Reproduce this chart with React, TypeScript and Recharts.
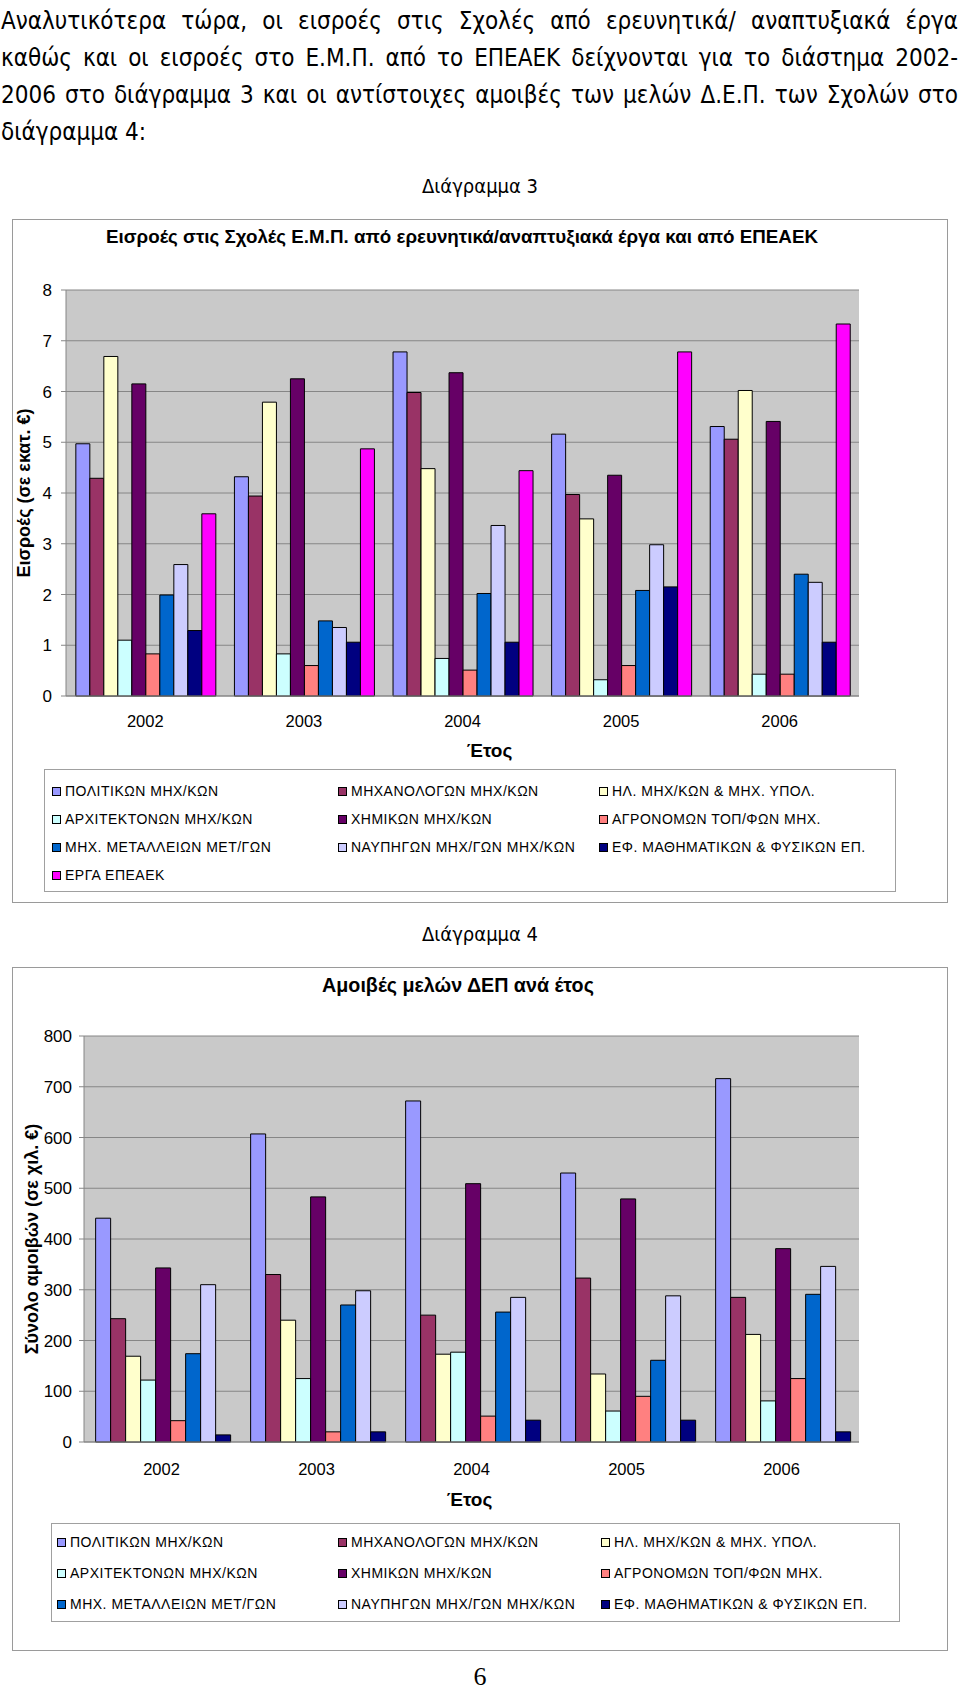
import React from "react";
import { BarChart, Bar, XAxis, YAxis, CartesianGrid, Legend } from "recharts";

const years = ["2002", "2003", "2004", "2005", "2006"];

const schools = [
  "ΠΟΛΙΤΙΚΩΝ ΜΗΧ/ΚΩΝ",
  "ΜΗΧΑΝΟΛΟΓΩΝ ΜΗΧ/ΚΩΝ",
  "ΗΛ. ΜΗΧ/ΚΩΝ & ΜΗΧ. ΥΠΟΛ.",
  "ΑΡΧΙΤΕΚΤΟΝΩΝ ΜΗΧ/ΚΩΝ",
  "ΧΗΜΙΚΩΝ ΜΗΧ/ΚΩΝ",
  "ΑΓΡΟΝΟΜΩΝ ΤΟΠ/ΦΩΝ ΜΗΧ.",
  "ΜΗΧ. ΜΕΤΑΛΛΕΙΩΝ ΜΕΤ/ΓΩΝ",
  "ΝΑΥΠΗΓΩΝ ΜΗΧ/ΓΩΝ ΜΗΧ/ΚΩΝ",
  "ΕΦ. ΜΑΘΗΜΑΤΙΚΩΝ & ΦΥΣΙΚΩΝ ΕΠ.",
];
const epeaekName = "ΕΡΓΑ ΕΠΕΑΕΚ";

const schoolColors = [
  "#9999FF",
  "#993366",
  "#FFFFCC",
  "#CCFFFF",
  "#660066",
  "#FF8080",
  "#0066CC",
  "#CCCCFF",
  "#000080",
];
const epeaekColor = "#FF00FF";

// Διάγραμμα 3: εισροές (εκατ. €), 2002..2006
const inflowPolitikon = [4.97, 4.32, 6.78, 5.16, 5.31];
const inflowMichanologon = [4.29, 3.94, 5.98, 3.97, 5.06];
const inflowIlektrologon = [6.69, 5.79, 4.48, 3.49, 6.02];
const inflowArchitektonon = [1.1, 0.83, 0.74, 0.32, 0.43];
const inflowChimikon = [6.15, 6.25, 6.37, 4.35, 5.41];
const inflowAgronomon = [0.83, 0.6, 0.51, 0.6, 0.43];
const inflowMetalleion = [1.99, 1.48, 2.02, 2.08, 2.4];
const inflowNafpigon = [2.59, 1.35, 3.36, 2.98, 2.24];
const inflowEfarmosmenon = [1.29, 1.06, 1.06, 2.15, 1.06];
const inflowEpeaek = [3.59, 4.87, 4.44, 6.78, 7.33];

// Διάγραμμα 4: αμοιβές μελών ΔΕΠ (χιλ. €), 2002..2006
const feesPolitikon = [441, 607, 672, 530, 716];
const feesMichanologon = [243, 330, 250, 323, 285];
const feesIlektrologon = [169, 240, 173, 134, 212];
const feesArchitektonon = [122, 125, 177, 61, 81];
const feesChimikon = [343, 483, 509, 479, 381];
const feesAgronomon = [42, 20, 51, 90, 125];
const feesMetalleion = [174, 270, 256, 161, 291];
const feesNafpigon = [310, 298, 285, 288, 346];
const feesEfarmosmenon = [14, 20, 43, 43, 20];

const inflowTicks = [0, 1, 2, 3, 4, 5, 6, 7, 8];
const feeTicks = [0, 100, 200, 300, 400, 500, 600, 700, 800];

const inflowSeries = [
  inflowPolitikon,
  inflowMichanologon,
  inflowIlektrologon,
  inflowArchitektonon,
  inflowChimikon,
  inflowAgronomon,
  inflowMetalleion,
  inflowNafpigon,
  inflowEfarmosmenon,
  inflowEpeaek,
];
const feeSeries = [
  feesPolitikon,
  feesMichanologon,
  feesIlektrologon,
  feesArchitektonon,
  feesChimikon,
  feesAgronomon,
  feesMetalleion,
  feesNafpigon,
  feesEfarmosmenon,
];

const inflowNames = [...schools, epeaekName];
const inflowColors = [...schoolColors, epeaekColor];

const buildRows = (series: number[][]) =>
  years.map((year, i) => {
    const row: Record<string, string | number> = { year };
    series.forEach((values, s) => {
      row["s" + s] = values[i];
    });
    return row;
  });

const inflowData = buildRows(inflowSeries);
const feeData = buildRows(feeSeries);

const chartFont = '"Liberation Sans", Arial, sans-serif';
const textFont = '"DejaVu Sans Condensed", "DejaVu Sans", sans-serif';
const gridGray = "#868686";
const plotGray = "#C9C9C9";

/* eslint-disable @typescript-eslint/no-explicit-any */
const yTitle = (text: string, x: number) => (props: any) => {
  const vb = props.viewBox;
  const cy = vb.y + vb.height / 2;
  return (
    <text
      x={x}
      y={cy}
      transform={`rotate(-90 ${x} ${cy})`}
      textAnchor="middle"
      dominantBaseline="central"
      fontFamily={chartFont}
      fontWeight="bold"
      fontSize={18}
      fill="#000"
    >
      {text}
    </text>
  );
};

const xTitle = (text: string, dx: number, dy: number) => (props: any) => {
  const vb = props.viewBox;
  const cx = vb.x + vb.width / 2 + dx;
  return (
    <text
      x={cx}
      y={vb.y + dy}
      textAnchor="middle"
      dominantBaseline="central"
      fontFamily={chartFont}
      fontWeight="bold"
      fontSize={19}
      fill="#000"
    >
      {text}
    </text>
  );
};

// legend kept in the source order (Recharts would sort it by name)
const legendBox =
  (
    names: string[],
    colors: string[],
    cols: number[],
    firstRow: number,
    rowStep: number
  ) =>
  () => (
    <div
      style={{
        position: "relative",
        width: "100%",
        height: "100%",
        boxSizing: "border-box",
        border: "1px solid #A0A0A0",
        background: "#fff",
        fontFamily: chartFont,
        fontSize: 14,
        letterSpacing: 0.5,
      }}
    >
      {names.map((name, i) => (
        <div
          key={name}
          style={{
            position: "absolute",
            left: cols[i % 3],
            top: firstRow + Math.floor(i / 3) * rowStep - 9,
            height: 18,
            lineHeight: "18px",
            whiteSpace: "nowrap",
            display: "flex",
            alignItems: "center",
          }}
        >
          <span
            style={{
              display: "inline-block",
              width: 7,
              height: 7,
              background: colors[i],
              border: "1px solid #000",
              marginRight: 4,
            }}
          />
          {name}
        </div>
      ))}
    </div>
  );
/* eslint-enable @typescript-eslint/no-explicit-any */

const paragraph = [
  "Αναλυτικότερα τώρα, οι εισροές στις Σχολές από ερευνητικά/ αναπτυξιακά έργα",
  "καθώς και οι εισροές στο Ε.Μ.Π. από το ΕΠΕΑΕΚ δείχνονται για το διάστημα 2002-",
  "2006 στο διάγραμμα 3 και οι αντίστοιχες αμοιβές των μελών Δ.Ε.Π. των Σχολών στο",
  "διάγραμμα 4:",
];

const xTickStyle = { fontFamily: chartFont, fontSize: 16.5, fill: "#000" };
const yTickStyle = { fontFamily: chartFont, fontSize: 17, fill: "#000" };

export default function App() {
  return (
    <div
      style={{
        position: "absolute",
        left: 0,
        top: 0,
        width: 960,
        height: 1691,
        background: "#fff",
        overflow: "hidden",
      }}
    >
      {paragraph.map((line, i) => (
        <div
          key={i}
          style={{
            position: "absolute",
            left: 1,
            top: 3 + i * 37,
            width: 957,
            height: 37,
            lineHeight: "37px",
            fontFamily: textFont,
            fontStretch: "condensed",
            fontSize: 24,
            whiteSpace: "nowrap",
            textAlign: i < 3 ? "justify" : "left",
            textAlignLast: i < 3 ? "justify" : "left",
          }}
        >
          {line}
        </div>
      ))}

      <div
        style={{
          position: "absolute",
          left: 0,
          width: 960,
          top: 174,
          textAlign: "center",
          fontFamily: textFont,
          fontStretch: "condensed",
          fontSize: 20,
          lineHeight: "24px",
        }}
      >
        Διάγραμμα 3
      </div>

      {/* Διάγραμμα 3 */}
      <div
        style={{
          position: "absolute",
          left: 12,
          top: 219,
          width: 936,
          height: 684,
          boxSizing: "border-box",
          border: "1px solid #9A9A9A",
        }}
      >
        <div
          style={{
            position: "absolute",
            left: 49,
            width: 800,
            top: 6,
            textAlign: "center",
            fontFamily: chartFont,
            fontWeight: "bold",
            fontSize: 18.8,
            lineHeight: "22px",
          }}
        >
          Εισροές στις Σχολές Ε.Μ.Π. από ερευνητικά/αναπτυξιακά έργα και από
          ΕΠΕΑΕΚ
        </div>
        <BarChart
          width={934}
          height={682}
          data={inflowData}
          margin={{ top: 70, right: 88, left: 0, bottom: 144 }}
          barGap={0}
          barCategoryGap="6.2%"
        >
          <CartesianGrid
            vertical={false}
            stroke={gridGray}
            fill={plotGray}
            fillOpacity={1}
          />
          <XAxis
            dataKey="year"
            height={62}
            tickLine={false}
            tickSize={0}
            tickMargin={19}
            axisLine={{ stroke: gridGray }}
            tick={xTickStyle}
            label={{ content: xTitle("Έτος", 27, 54) }}
          />
          <YAxis
            width={53}
            domain={[0, 8]}
            ticks={inflowTicks}
            interval={0}
            tickSize={5}
            tickMargin={9}
            tickLine={{ stroke: gridGray }}
            axisLine={{ stroke: gridGray }}
            tick={yTickStyle}
            label={{ content: yTitle("Εισροές (σε εκατ. €)", 11) }}
          />
          <YAxis
            yAxisId="frame"
            orientation="right"
            width={0}
            domain={[0, 8]}
            tick={false}
            tickLine={false}
            axisLine={{ stroke: gridGray }}
          />
          <Legend
            verticalAlign="middle"
            align="center"
            layout="horizontal"
            wrapperStyle={{ left: 31, top: 549, width: 852, height: 123 }}
            content={legendBox(inflowNames, inflowColors, [7, 293, 554], 21, 28)}
          />
          {inflowNames.map((name, s) => (
            <Bar
              key={name}
              dataKey={"s" + s}
              name={name}
              fill={inflowColors[s]}
              stroke="#000"
              strokeWidth={1}
              isAnimationActive={false}
            />
          ))}
        </BarChart>
      </div>

      <div
        style={{
          position: "absolute",
          left: 0,
          width: 960,
          top: 922,
          textAlign: "center",
          fontFamily: textFont,
          fontStretch: "condensed",
          fontSize: 20,
          lineHeight: "24px",
        }}
      >
        Διάγραμμα 4
      </div>

      {/* Διάγραμμα 4 */}
      <div
        style={{
          position: "absolute",
          left: 12,
          top: 967,
          width: 936,
          height: 684,
          boxSizing: "border-box",
          border: "1px solid #9A9A9A",
        }}
      >
        <div
          style={{
            position: "absolute",
            left: 45,
            width: 800,
            top: 6,
            textAlign: "center",
            fontFamily: chartFont,
            fontWeight: "bold",
            fontSize: 19.7,
            lineHeight: "22px",
          }}
        >
          Αμοιβές μελών ΔΕΠ ανά έτος
        </div>
        <BarChart
          width={934}
          height={682}
          data={feeData}
          margin={{ top: 68, right: 88, left: 0, bottom: 146 }}
          barGap={0}
          barCategoryGap="7.5%"
        >
          <CartesianGrid
            vertical={false}
            stroke={gridGray}
            fill={plotGray}
            fillOpacity={1}
          />
          <XAxis
            dataKey="year"
            height={62}
            tickLine={false}
            tickSize={0}
            tickMargin={21}
            axisLine={{ stroke: gridGray }}
            tick={xTickStyle}
            label={{ content: xTitle("Έτος", -2, 57) }}
          />
          <YAxis
            width={71}
            domain={[0, 800]}
            ticks={feeTicks}
            interval={0}
            tickSize={5}
            tickMargin={7}
            tickLine={{ stroke: gridGray }}
            axisLine={{ stroke: gridGray }}
            tick={yTickStyle}
            label={{ content: yTitle("Σύνολο αμοιβών (σε χιλ. €)", 19) }}
          />
          <YAxis
            yAxisId="frame"
            orientation="right"
            width={0}
            domain={[0, 800]}
            tick={false}
            tickLine={false}
            axisLine={{ stroke: gridGray }}
          />
          <Legend
            verticalAlign="middle"
            align="center"
            layout="horizontal"
            wrapperStyle={{ left: 38, top: 555, width: 849, height: 99 }}
            content={legendBox(schools, schoolColors, [5, 286, 549], 18, 31)}
          />
          {schools.map((name, s) => (
            <Bar
              key={name}
              dataKey={"s" + s}
              name={name}
              fill={schoolColors[s]}
              stroke="#000"
              strokeWidth={1}
              isAnimationActive={false}
            />
          ))}
        </BarChart>
      </div>

      <div
        style={{
          position: "absolute",
          left: 0,
          width: 960,
          top: 1663,
          textAlign: "center",
          fontFamily: '"Liberation Serif", "Times New Roman", serif',
          fontSize: 26,
          lineHeight: "28px",
        }}
      >
        6
      </div>
    </div>
  );
}
